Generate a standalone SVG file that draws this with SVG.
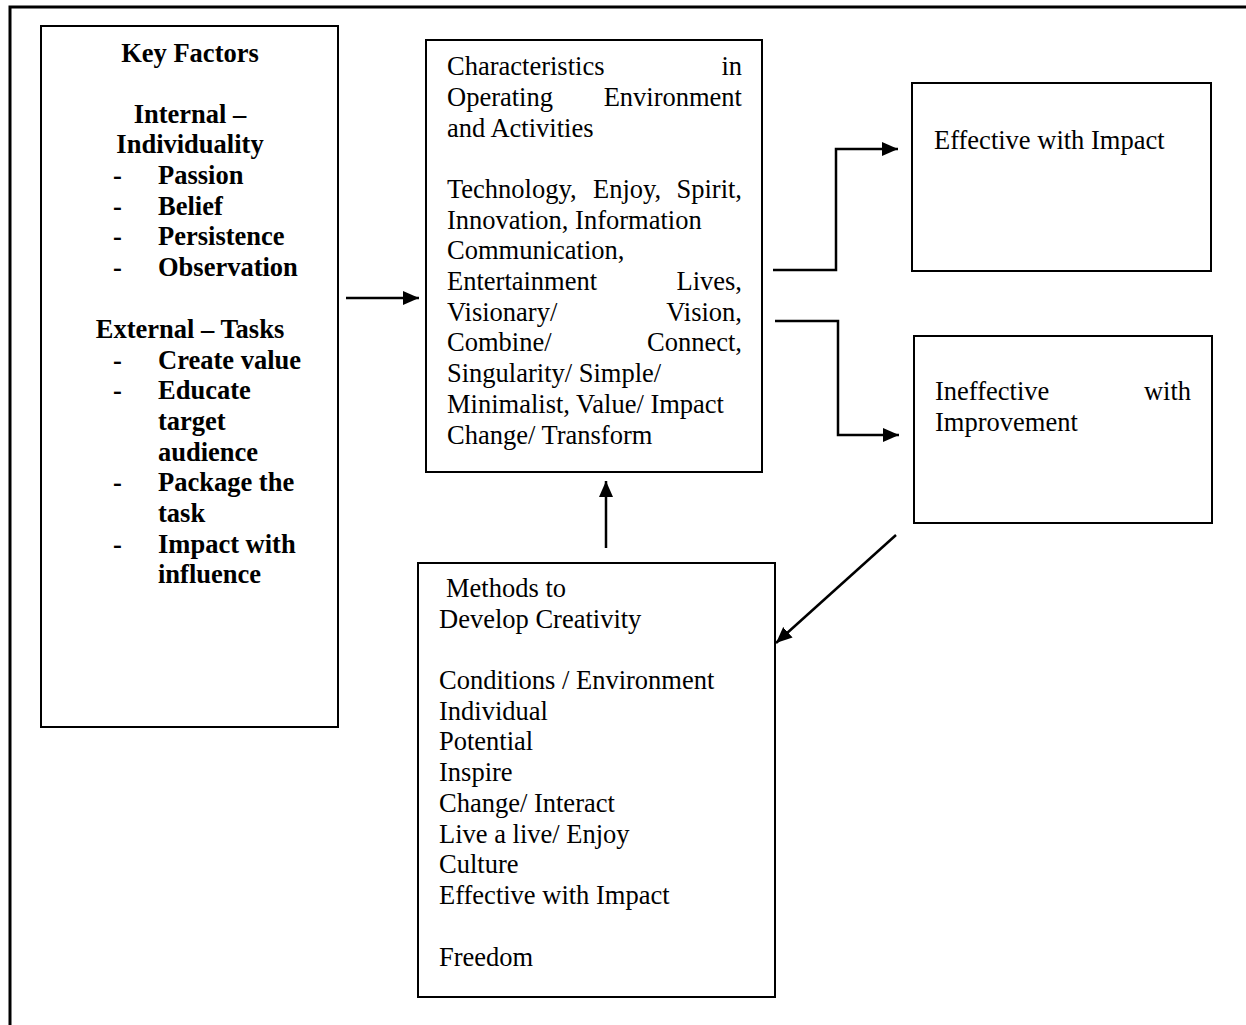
<svg xmlns="http://www.w3.org/2000/svg" width="1246" height="1025" viewBox="0 0 1246 1025">
<style>
  .box { fill: #fff; stroke: #000; stroke-width: 2; }
  .t { font-family: "Liberation Serif", "Times New Roman", serif; font-size: 26.5px; fill: #000; }
  .b { font-weight: bold; }
  .c { text-anchor: middle; }
  .e { text-anchor: end; }
  .conn { fill: none; stroke: #000; stroke-width: 2.5; marker-end: url(#arrow); }
  .frame { fill: none; stroke: #000; stroke-width: 3; }
</style>
<defs>
  <marker id="arrow" markerUnits="userSpaceOnUse" markerWidth="18" markerHeight="16" refX="16" refY="7" orient="auto">
    <path d="M0,0 L16,7 L0,14 z" fill="#000"/>
  </marker>
</defs>
<rect width="1246" height="1025" fill="#fff"/>
<g id="frame">
  <polyline class="frame" points="10,1025 10,7 1246,7"/>
</g>
<g id="key-factors">
  <rect class="box" x="41" y="26" width="297" height="701"/>
  <text class="t b c" x="190" y="62">Key Factors</text>
  <text class="t b c" x="190" y="123">Internal –</text>
  <text class="t b c" x="190" y="153">Individuality</text>
  <text class="t b" x="113" y="184">-</text><text class="t b" x="158" y="184">Passion</text>
  <text class="t b" x="113" y="215">-</text><text class="t b" x="158" y="215">Belief</text>
  <text class="t b" x="113" y="245">-</text><text class="t b" x="158" y="245">Persistence</text>
  <text class="t b" x="113" y="276">-</text><text class="t b" x="158" y="276">Observation</text>
  <text class="t b c" x="190" y="338">External – Tasks</text>
  <text class="t b" x="113" y="369">-</text><text class="t b" x="158" y="369">Create value</text>
  <text class="t b" x="113" y="399">-</text><text class="t b" x="158" y="399">Educate</text>
  <text class="t b" x="158" y="430">target</text>
  <text class="t b" x="158" y="461">audience</text>
  <text class="t b" x="113" y="491">-</text><text class="t b" x="158" y="491">Package the</text>
  <text class="t b" x="158" y="522">task</text>
  <text class="t b" x="113" y="553">-</text><text class="t b" x="158" y="553">Impact with</text>
  <text class="t b" x="158" y="583">influence</text>
</g>
<g id="characteristics">
  <rect class="box" x="426" y="40" width="336" height="432"/>
  <text class="t" x="447" y="75">Characteristics</text><text class="t e" x="742" y="75">in</text>
  <text class="t" x="447" y="106">Operating</text><text class="t e" x="742" y="106">Environment</text>
  <text class="t" x="447" y="137">and Activities</text>
  <text class="t" x="447" y="198">Technology,</text><text class="t" x="593" y="198">Enjoy,</text><text class="t e" x="742" y="198">Spirit,</text>
  <text class="t" x="447" y="229">Innovation, Information</text>
  <text class="t" x="447" y="259">Communication,</text>
  <text class="t" x="447" y="290">Entertainment</text><text class="t e" x="742" y="290">Lives,</text>
  <text class="t" x="447" y="321">Visionary/</text><text class="t e" x="742" y="321">Vision,</text>
  <text class="t" x="447" y="351">Combine/</text><text class="t e" x="742" y="351">Connect,</text>
  <text class="t" x="447" y="382">Singularity/ Simple/</text>
  <text class="t" x="447" y="413">Minimalist, Value/ Impact</text>
  <text class="t" x="447" y="444">Change/ Transform</text>
</g>
<g id="effective">
  <rect class="box" x="912" y="83" width="299" height="188"/>
  <text class="t" x="934" y="149">Effective with Impact</text>
</g>
<g id="ineffective">
  <rect class="box" x="914" y="336" width="298" height="187"/>
  <text class="t" x="935" y="400">Ineffective</text><text class="t e" x="1191" y="400">with</text>
  <text class="t" x="935" y="431">Improvement</text>
</g>
<g id="methods">
  <rect class="box" x="418" y="563" width="357" height="434"/>
  <text class="t" x="446" y="597">Methods to</text>
  <text class="t" x="439" y="628">Develop Creativity</text>
  <text class="t" x="439" y="689">Conditions / Environment</text>
  <text class="t" x="439" y="720">Individual</text>
  <text class="t" x="439" y="750">Potential</text>
  <text class="t" x="439" y="781">Inspire</text>
  <text class="t" x="439" y="812">Change/ Interact</text>
  <text class="t" x="439" y="843">Live a live/ Enjoy</text>
  <text class="t" x="439" y="873">Culture</text>
  <text class="t" x="439" y="904">Effective with Impact</text>
  <text class="t" x="439" y="966">Freedom</text>
</g>
<g id="connectors">
  <line class="conn" x1="346" y1="298" x2="419" y2="298"/>
  <polyline class="conn" points="773,270 836,270 836,149 898,149"/>
  <polyline class="conn" points="775,321 838,321 838,435 899,435"/>
  <line class="conn" x1="606" y1="548" x2="606" y2="481"/>
  <line class="conn" x1="896" y1="535" x2="776" y2="643"/>
</g>
</svg>
